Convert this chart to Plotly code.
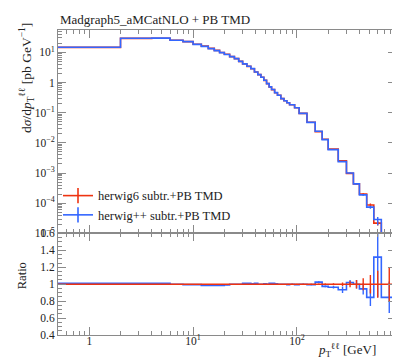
import numpy as np
import plotly.graph_objects as go
from plotly.subplots import make_subplots

# pT(ll) binning in GeV
bin_edges = [0, 2, 4, 6, 8, 10, 12, 14, 16, 18, 20, 22.5, 25, 27.5, 30, 33, 36, 39,
             42, 45, 48, 51, 54, 57, 61, 65, 70, 75, 80, 85, 95, 105, 125, 150, 175,
             200, 250, 300, 350, 400, 470, 550, 650, 900]

# herwig6 subtr.+PB TMD, dsigma/dpT [pb/GeV]
herwig6_xs = [14.6, 29.0, 29.3, 25.2, 22.7, 18.5, 16.0, 13.5, 11.6, 9.9, 8.6, 7.2,
              6.2, 5.0, 4.1, 3.42, 2.87, 2.22, 1.83, 1.49, 1.18, 0.92, 0.71, 0.58,
              0.46, 0.377, 0.293, 0.248, 0.214, 0.183, 0.146, 0.095, 0.048, 0.0236,
              0.0132, 0.0062, 0.00257, 0.00098, 4.4e-4, 2.0e-4, 8.8e-5, 2.2e-5, 8.0e-6]

# herwig++ / herwig6
ratio_hpp = [1.01, 1.01, 1.01, 1.0, 0.995, 0.995, 0.985, 0.985, 0.985, 0.985, 0.99,
             1.0, 1.0, 1.0, 1.01, 1.01, 1.005, 1.01, 1.0, 1.0, 1.005, 1.0, 1.01, 1.01,
             1.005, 1.0, 1.0, 1.0, 0.995, 1.0, 0.995, 1.0, 0.995, 1.025, 0.975, 0.965,
             0.935, 1.02, 1.0, 0.945, 0.845, 1.32, 0.845]

# relative uncertainties
herwig6_relerr = [0.003, 0.003, 0.003, 0.003, 0.003, 0.003, 0.003, 0.003, 0.003,
                  0.003, 0.003, 0.003, 0.003, 0.003, 0.003, 0.003, 0.003, 0.003,
                  0.003, 0.003, 0.003, 0.003, 0.003, 0.003, 0.003, 0.004, 0.004,
                  0.004, 0.005, 0.005, 0.005, 0.006, 0.006, 0.008, 0.01, 0.012, 0.02,
                  0.035, 0.05, 0.07, 0.11, 0.16, 0.2]
herwigpp_relerr_up = [0.003, 0.003, 0.003, 0.003, 0.003, 0.003, 0.003, 0.003, 0.003,
                      0.003, 0.003, 0.003, 0.003, 0.003, 0.003, 0.003, 0.003, 0.003,
                      0.003, 0.003, 0.003, 0.003, 0.003, 0.003, 0.003, 0.004, 0.004,
                      0.004, 0.005, 0.005, 0.005, 0.006, 0.006, 0.01, 0.01, 0.015, 0.04,
                      0.03, 0.05, 0.07, 0.12, 0.21, 0.22]
herwigpp_relerr_down = [0.003, 0.003, 0.003, 0.003, 0.003, 0.003, 0.003, 0.003, 0.003,
                        0.003, 0.003, 0.003, 0.003, 0.003, 0.003, 0.003, 0.003, 0.003,
                        0.003, 0.003, 0.003, 0.003, 0.003, 0.003, 0.003, 0.004, 0.004,
                        0.004, 0.005, 0.005, 0.005, 0.006, 0.006, 0.01, 0.01, 0.015, 0.04,
                        0.03, 0.05, 0.07, 0.12, 0.36, 0.22]

labels = ["herwig6 subtr.+PB TMD", "herwig++ subtr.+PB TMD"]
RED = "#EE3311"
BLUE = "#3366FF"
GREY = "#8a8a8a"
FONT = "Liberation Serif"

edges = np.array(bin_edges, dtype=float)
centers = 0.5 * (edges[:-1] + edges[1:])
xstep = np.clip(edges, 0.1, None)  # log axis cannot show 0
h6 = np.array(herwig6_xs)
ratio = np.array(ratio_hpp)
hpp = h6 * ratio
err6 = np.array(herwig6_relerr)
errpp_up = np.array(herwigpp_relerr_up)
errpp_dn = np.array(herwigpp_relerr_down)


def step(y):
    return list(y) + [y[-1]]


def bars(x, y, up, down, col):
    return go.Scatter(x=x, y=y, mode="markers", marker=dict(size=1, color="rgba(0,0,0,0)"),
                      error_y=dict(type="data", symmetric=False, array=up, arrayminus=down,
                                   width=0, thickness=1.4, color=col),
                      showlegend=False, hoverinfo="skip")


fig = make_subplots(rows=2, cols=1, shared_xaxes=True, vertical_spacing=0,
                    row_heights=[0.667, 0.333])

# main panel
series = [(h6, err6, err6, RED, labels[0]), (hpp, errpp_up, errpp_dn, BLUE, labels[1])]
for vals, rup, rdn, col, name in series:
    fig.add_trace(go.Scatter(x=xstep, y=step(vals), mode="lines", line_shape="hv",
                             line=dict(color=col, width=1.6), showlegend=False,
                             hoverinfo="skip"), row=1, col=1)
    fig.add_trace(bars(centers, vals, vals * rup, vals * rdn, col), row=1, col=1)
    # legend entry: line with vertical bar
    fig.add_trace(go.Scatter(x=[None], y=[None], mode="lines+markers", name=name,
                             line=dict(color=col, width=1.6),
                             marker=dict(symbol="line-ns-open", size=11,
                                         line=dict(color=col, width=1.6))),
                  row=1, col=1)

# ratio panel
fig.add_trace(go.Scatter(x=xstep, y=step(ratio), mode="lines", line_shape="hv",
                         line=dict(color=BLUE, width=1.6), showlegend=False),
              row=2, col=1)
fig.add_trace(bars(centers, ratio, ratio * errpp_up, ratio * errpp_dn, BLUE), row=2, col=1)
ones = np.ones(len(h6))
fig.add_trace(go.Scatter(x=xstep, y=step(ones), mode="lines", line_shape="hv",
                         line=dict(color=RED, width=1.6), showlegend=False),
              row=2, col=1)
fig.add_trace(bars(centers, ones, err6, err6, RED), row=2, col=1)

axis_style = dict(showline=True, linecolor=GREY, linewidth=1, mirror="allticks",
                  ticks="inside", ticklen=8, tickcolor=GREY, tickwidth=1,
                  showgrid=False, zeroline=False,
                  tickfont=dict(family=FONT, size=11.5, color="#222"))

x_minor = [0.6, 0.7, 0.8, 0.9, 2, 3, 4, 5, 6, 7, 8, 9, 20, 30, 40, 50, 60, 70, 80,
           90, 200, 300, 400, 500, 600, 700, 800, 900]
y_minor = [m * 10.0 ** e for e in range(-5, 2) for m in range(2, 10)]

fig.update_xaxes(type="log", range=[np.log10(0.5), np.log10(900)], **axis_style,
                 tickvals=[1, 10, 100], ticktext=["1", "10<sup>1</sup>", "10<sup>2</sup>"],
                 ticklabelstandoff=-5,
                 minor=dict(ticks="inside", ticklen=4, tickcolor=GREY, tickvals=x_minor))
fig.update_xaxes(showticklabels=False, row=1, col=1)

fig.update_yaxes(type="log", range=[-5, 1.74], row=1, col=1, **axis_style,
                 tickvals=[1e-5, 1e-4, 1e-3, 1e-2, 1e-1, 1, 10],
                 ticktext=["10<sup>−5</sup>", "10<sup>−4</sup>", "10<sup>−3</sup>",
                           "10<sup>−2</sup>", "10<sup>−1</sup>", "1", "10<sup>1</sup>"],
                 minor=dict(ticks="inside", ticklen=4, tickcolor=GREY, tickvals=y_minor))
fig.update_yaxes(range=[0.4, 1.6], row=2, col=1, **axis_style,
                 tickvals=[0.4, 0.6, 0.8, 1, 1.2, 1.4, 1.6],
                 ticktext=["0.4", "0.6", "0.8", "1", "1.2", "1.4", "1.6"],
                 minor=dict(ticks="inside", ticklen=4, tickcolor=GREY, dtick=0.05))

fig.update_layout(
    width=400, height=361,
    margin=dict(l=50, r=12, t=22, b=34),
    plot_bgcolor="white", paper_bgcolor="white",
    font=dict(family=FONT, size=11, color="#222"),
    legend=dict(x=0.0, y=0.505, xanchor="left", yanchor="top",
                bgcolor="rgba(0,0,0,0)", font=dict(family=FONT, size=12.5),
                itemwidth=30, tracegroupgap=0),
    annotations=[
        dict(text="Madgraph5_aMCatNLO + PB TMD", x=0, y=1, xref="paper", yref="paper",
             xanchor="left", yanchor="bottom", yshift=1, showarrow=False,
             font=dict(family=FONT, size=13)),
        dict(text="d<i>σ</i>/d<i>p</i><sub>T</sub><sup>ℓℓ</sup> [pb GeV<sup>−1</sup>]",
             x=0, y=1, xref="paper", yref="paper", xanchor="center", yanchor="top",
             xshift=-32, yshift=9, textangle=-90, showarrow=False,
             font=dict(family=FONT, size=13.5)),
        dict(text="Ratio", x=0, y=0.1665, xref="paper", yref="paper", xanchor="center",
             yanchor="middle", xshift=-36, yshift=8, textangle=-90, showarrow=False,
             font=dict(family=FONT, size=12.5)),
        dict(text="<i>p</i><sub>T</sub><sup>ℓℓ</sup> [GeV]", x=1, y=0, xref="paper",
             yref="paper", xanchor="right", yanchor="top", xshift=-18, yshift=-4,
             showarrow=False, font=dict(family=FONT, size=13)),
    ],
)

fig.write_html("out.html")
